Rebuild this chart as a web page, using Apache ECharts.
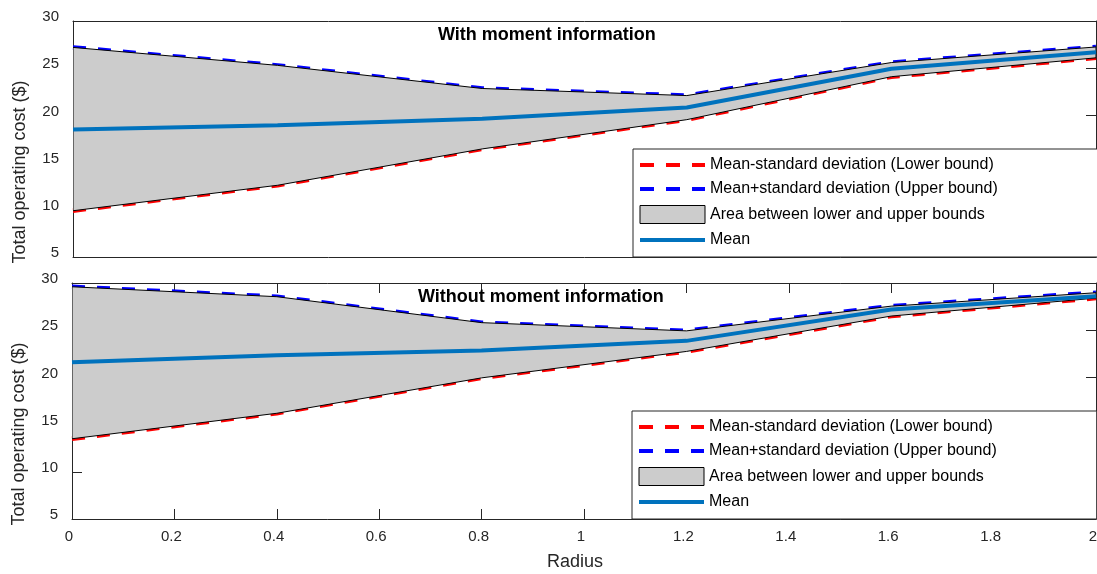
<!DOCTYPE html>
<html>
<head>
<meta charset="utf-8">
<script src="https://cdn.jsdelivr.net/npm/echarts@6/dist/echarts.min.js"></script>
<style>
html,body{margin:0;padding:0;background:#fff;}
#chart{width:1097px;height:574px;}
</style>
</head>
<body>
<div id="chart"></div>
<script>
// ---- data ----
const radius = [0, 0.4, 0.8, 1.2, 1.6, 2.0];
const withLower = [9.9, 12.6, 16.45, 19.55, 24.1, 26.1];
const withUpper = [27.2, 25.3, 22.85, 22.1, 25.6, 27.25];
const withMean  = [18.5, 18.95, 19.65, 20.83, 24.95, 26.7];
const withoutLower = [13.5, 16.2, 19.95, 22.75, 26.5, 28.4];
const withoutUpper = [29.6, 28.55, 25.8, 24.93, 27.55, 28.97];
const withoutMean  = [21.6, 22.35, 22.85, 23.87, 27.2, 28.6];
const xTicks = [0, 0.2, 0.4, 0.6, 0.8, 1, 1.2, 1.4, 1.6, 1.8, 2];
const yTicks = [5, 10, 15, 20, 25, 30];
const titles = ['With moment information', 'Without moment information'];
const names = {
  lower: 'Mean-standard deviation (Lower bound)',
  upper: 'Mean+standard deviation (Upper bound)',
  area: 'Area between lower and upper bounds',
  mean: 'Mean'
};

const FONT = 'Liberation Sans, Arial, Helvetica, sans-serif';
const AX = '#262626';
const pts = (ys) => radius.map((x, i) => [x, ys[i]]);

function grids() {
  return [
    {left: 73, top: 21, right: 1, height: 236, outerBoundsMode: 'none', containLabel: false},
    {left: 72, top: 283, right: 1, height: 236, outerBoundsMode: 'none', containLabel: false}
  ];
}

function xAxisPair(gi, showLabels, showTicks) {
  const base = {
    type: 'value', min: xTicks[0], max: xTicks[xTicks.length - 1], interval: 0.2,
    gridIndex: gi, splitLine: {show: false},
    axisLine: {show: true, onZero: false, lineStyle: {color: AX, width: 1}},
    axisTick: {show: showTicks, inside: true, length: 10, lineStyle: {color: AX}}
  };
  const bottom = Object.assign({}, base, {
    position: 'bottom',
    axisLabel: {
      show: showLabels, color: AX, fontSize: 15, fontFamily: FONT, margin: 10,
      formatter: (v) => '{a|' + v + '}',
      rich: {a: {color: AX, fontSize: 15, fontFamily: FONT, padding: [0, 6, 0, 0]}}
    },
  });
  if (showLabels) {
    Object.assign(bottom, {
      name: 'Radius', nameLocation: 'middle', nameGap: 34,
      nameTextStyle: {color: AX, fontSize: 18, fontFamily: FONT, padding: [0, 18, 0, 0]}
    });
  }
  const top = Object.assign({}, base, {position: 'top', axisLabel: {show: false}});
  return [bottom, top];
}

function yAxisPair(gi) {
  const base = {
    type: 'value', min: yTicks[0], max: yTicks[yTicks.length - 1], interval: 5,
    gridIndex: gi, splitLine: {show: false},
    axisLine: {show: true, onZero: false, lineStyle: {color: AX, width: 1}},
    axisTick: {show: true, inside: true, length: 10, lineStyle: {color: AX}}
  };
  const left = Object.assign({}, base, {
    position: 'left',
    axisLabel: {show: true, color: AX, fontSize: 15, fontFamily: FONT, margin: 14,
                verticalAlign: 'bottom', lineHeight: 8},
    name: 'Total operating cost ($)', nameLocation: 'middle', nameGap: 44,
    nameTextStyle: {color: AX, fontSize: 18, fontFamily: FONT, padding: [0, 66, 0, 0]}
  });
  const right = Object.assign({}, base, {position: 'right', axisLabel: {show: false}});
  return [left, right];
}

function seriesFor(lo, up, mean, xi, yi) {
  const common = {xAxisIndex: xi, yAxisIndex: yi, symbol: 'none', showSymbol: false, animation: false};
  return [
    Object.assign({}, common, {
      name: names.lower, type: 'line', data: pts(lo), z: 2,
      lineStyle: {color: '#ff0000', width: 4.5, type: [13, 12]}, itemStyle: {color: '#ff0000'}
    }),
    Object.assign({}, common, {
      name: names.upper, type: 'line', data: pts(up), z: 2,
      lineStyle: {color: '#0000ff', width: 4.5, type: [13, 12]}, itemStyle: {color: '#0000ff'}
    }),
    {
      name: names.area, type: 'custom', xAxisIndex: xi, yAxisIndex: yi, z: 3, animation: false,
      clip: true,
      data: radius.map((x, i) => [x, lo[i], up[i]]),
      encode: {x: 0, y: [1, 2]},
      itemStyle: {color: '#cccccc'},
      renderItem: function (params, api) {
        if (params.dataIndex !== 0) return null;
        const topPts = radius.map((x, i) => api.coord([x, up[i]]));
        const botPts = radius.map((x, i) => api.coord([x, lo[i]])).reverse();
        return {
          type: 'polygon',
          shape: {points: topPts.concat(botPts)},
          style: {fill: '#cccccc', stroke: '#000000', lineWidth: 1}
        };
      }
    },
    Object.assign({}, common, {
      name: names.mean, type: 'line', data: pts(mean), z: 4,
      lineStyle: {color: '#0072BD', width: 4}, itemStyle: {color: '#0072BD'}
    })
  ];
}

function legendAt(left, top) {
  return {
    orient: 'vertical', left: left, top: top,
    itemWidth: 65, itemHeight: 18, itemGap: 8,
    padding: [8, 100, 9, 5],
    backgroundColor: '#fff', borderColor: AX, borderWidth: 1, borderRadius: 0,
    selectedMode: false,
    textStyle: {color: '#000', fontSize: 16, fontFamily: FONT},
    data: [
      {name: names.lower, itemStyle: {opacity: 0}, lineStyle: {color: '#ff0000', width: 4, type: [14, 12]}},
      {name: names.upper, itemStyle: {opacity: 0}, lineStyle: {color: '#0000ff', width: 4, type: [14, 12]}},
      {name: names.area, icon: 'rect', itemStyle: {color: '#cccccc', borderColor: '#000', borderWidth: 1, opacity: 1}},
      {name: names.mean, itemStyle: {opacity: 0}, lineStyle: {color: '#0072BD', width: 4}}
    ]
  };
}

const xa = xAxisPair(0, false, false).concat(xAxisPair(1, true, true));
const ya = yAxisPair(0).concat(yAxisPair(1));

const option = {
  backgroundColor: '#fff',
  animation: false,
  title: [
    {text: titles[0], left: 438, top: 26, padding: 0,
     textStyle: {fontSize: 18, fontWeight: 'bold', color: '#000', fontFamily: FONT}},
    {text: titles[1], left: 418, top: 288, padding: 0,
     textStyle: {fontSize: 18, fontWeight: 'bold', color: '#000', fontFamily: FONT}}
  ],
  grid: grids(),
  xAxis: xa,
  yAxis: ya,
  legend: [legendAt(633, 149), legendAt(632, 411)],
  series: seriesFor(withLower, withUpper, withMean, 0, 0)
    .concat(seriesFor(withoutLower, withoutUpper, withoutMean, 2, 2))
};

const chart = echarts.init(document.getElementById('chart'), null, {renderer: 'canvas'});
chart.setOption(option);
</script>
</body>
</html>
